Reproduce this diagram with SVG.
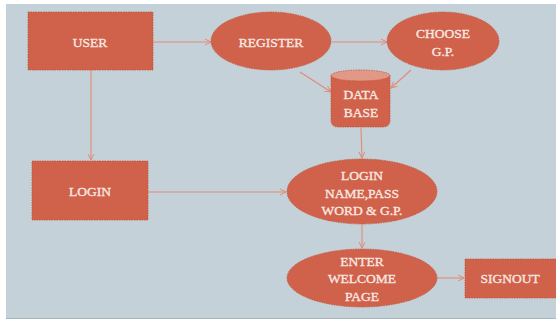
<svg xmlns="http://www.w3.org/2000/svg" width="556" height="320" viewBox="0 0 556 320">
<defs>
<marker id="arr" markerWidth="8" markerHeight="8" refX="7" refY="4" orient="auto" markerUnits="userSpaceOnUse">
<path d="M1,1 L7,4 L1,7" fill="none" stroke="#E08B78" stroke-width="1"/>
</marker>
</defs>
<style>
.node{fill:#D0614A;stroke:#C2553F;stroke-width:0.8;stroke-dasharray:1.5 1}
.top{fill:#E29886;stroke:#C2553F;stroke-width:0.8;stroke-dasharray:1.5 1}
.lbl{font-family:"Liberation Serif","DejaVu Serif",serif;font-size:13.5px;fill:#F8E8E2;stroke:#F8E8E2;stroke-width:0.35;text-anchor:middle;dominant-baseline:central}
.con{fill:none;stroke:#E08B78;stroke-width:1.1;marker-end:url(#arr)}
</style>
<rect x="0" y="0" width="556" height="320" fill="#FFFFFF"/>
<rect x="6" y="4" width="550" height="314" fill="#C5D1D8"/>
<line x1="6" y1="318.5" x2="556" y2="318.5" stroke="#A9B6BC" stroke-width="1"/>
<g id="connectors">
<line class="con" x1="153" y1="42" x2="211" y2="42"/>
<line class="con" x1="332" y1="42" x2="387" y2="42"/>
<line class="con" x1="300" y1="72" x2="331" y2="92"/>
<line class="con" x1="411" y1="70" x2="391" y2="88"/>
<line class="con" x1="361" y1="128" x2="362" y2="158"/>
<line class="con" x1="91" y1="70" x2="91" y2="160"/>
<line class="con" x1="148" y1="192" x2="286" y2="192"/>
<line class="con" x1="362" y1="224" x2="362" y2="248"/>
<line class="con" x1="437" y1="278" x2="464" y2="278"/>
</g>
<g id="user">
<rect class="node" x="28" y="12" width="125" height="58"/>
<text class="lbl" x="90" y="42">USER</text>
</g>
<g id="register">
<ellipse class="node" cx="271" cy="41" rx="60" ry="29"/>
<text class="lbl" x="271" y="42">REGISTER</text>
</g>
<g id="choose">
<ellipse class="node" cx="443" cy="41" rx="56" ry="29"/>
<text class="lbl" x="443" y="33">CHOOSE</text>
<text class="lbl" x="443" y="51">G.P.</text>
</g>
<g id="database">
<path class="node" d="M331,75.5 L331,120 Q331,127 338,127 L383,127 Q390,127 390,120 L390,75.5 Z"/>
<ellipse class="top" cx="360.5" cy="75.5" rx="29.5" ry="5.5"/>
<text class="lbl" x="361" y="94">DATA</text>
<text class="lbl" x="361" y="112">BASE</text>
</g>
<g id="login">
<rect class="node" x="32" y="161" width="116" height="59"/>
<text class="lbl" x="90" y="191">LOGIN</text>
</g>
<g id="login-name">
<ellipse class="node" cx="362" cy="191.5" rx="75" ry="32.5"/>
<text class="lbl" x="362" y="175">LOGIN</text>
<text class="lbl" x="362" y="193">NAME,PASS</text>
<text class="lbl" x="362" y="210">WORD &amp; G.P.</text>
</g>
<g id="enter">
<ellipse class="node" cx="362" cy="278" rx="75" ry="29"/>
<text class="lbl" x="362" y="261">ENTER</text>
<text class="lbl" x="362" y="278">WELCOME</text>
<text class="lbl" x="362" y="296">PAGE</text>
</g>
<g id="signout">
<rect class="node" x="465" y="259" width="92" height="39"/>
<text class="lbl" x="510" y="278">SIGNOUT</text>
</g>
</svg>
